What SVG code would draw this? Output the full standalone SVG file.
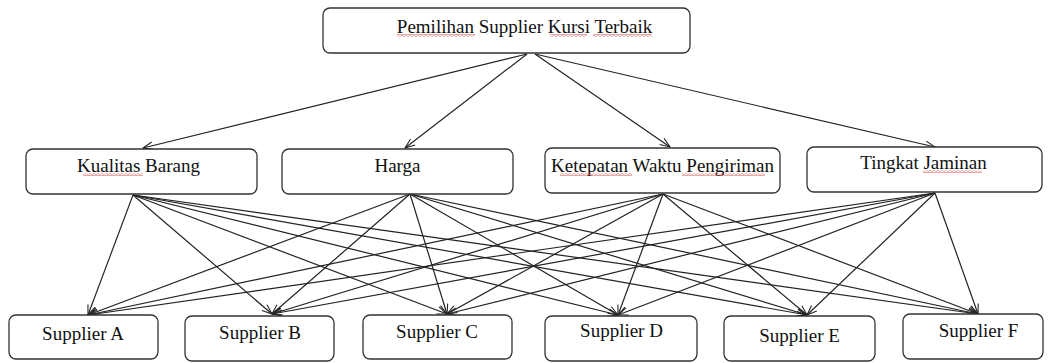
<svg xmlns="http://www.w3.org/2000/svg" width="1049" height="363" viewBox="0 0 1049 363">
  <style>
    .box { fill: #ffffff; stroke: #333333; stroke-width: 1.3; }
    .lbl { font-family: "Liberation Serif", "Times New Roman", serif; font-size: 19px; fill: #111111; text-anchor: middle; }
    .edge { stroke: #222222; stroke-width: 1.2; fill: none; marker-end: url(#arr); }
    .sq { fill: url(#squig); }
  </style>
  <defs>
    <marker id="arr" viewBox="0 0 12 10" refX="11.5" refY="5" markerWidth="11" markerHeight="9" markerUnits="userSpaceOnUse" orient="auto">
      <path d="M0.5,0.8 L11.5,5 L0.5,9.2" fill="none" stroke="#222222" stroke-width="1.2"/>
    </marker>
    <pattern id="squig" x="0" y="0" width="4" height="3" patternUnits="userSpaceOnUse">
      <path d="M0,0.6 L2,2.4 L4,0.6" fill="none" stroke="#e03030" stroke-width="0.8"/>
    </pattern>
  </defs>

  <g id="connectors">
    <line class="edge" x1="527" y1="54" x2="143" y2="148"/>
    <line class="edge" x1="527" y1="54" x2="405" y2="148"/>
    <line class="edge" x1="535" y1="54" x2="670" y2="147"/>
    <line class="edge" x1="535" y1="54" x2="935" y2="147"/>

    <line class="edge" x1="133" y1="195" x2="88" y2="315"/>
    <line class="edge" x1="133" y1="195" x2="272" y2="314"/>
    <line class="edge" x1="133" y1="195" x2="447" y2="314"/>
    <line class="edge" x1="133" y1="195" x2="618" y2="315"/>
    <line class="edge" x1="133" y1="195" x2="807" y2="315"/>
    <line class="edge" x1="133" y1="195" x2="978" y2="314"/>

    <line class="edge" x1="410" y1="194" x2="88" y2="315"/>
    <line class="edge" x1="410" y1="194" x2="272" y2="314"/>
    <line class="edge" x1="410" y1="194" x2="447" y2="314"/>
    <line class="edge" x1="410" y1="194" x2="618" y2="315"/>
    <line class="edge" x1="410" y1="194" x2="807" y2="315"/>
    <line class="edge" x1="410" y1="194" x2="978" y2="314"/>

    <line class="edge" x1="663" y1="194" x2="88" y2="315"/>
    <line class="edge" x1="663" y1="194" x2="272" y2="314"/>
    <line class="edge" x1="663" y1="194" x2="447" y2="314"/>
    <line class="edge" x1="663" y1="194" x2="618" y2="315"/>
    <line class="edge" x1="663" y1="194" x2="807" y2="315"/>
    <line class="edge" x1="663" y1="194" x2="978" y2="314"/>

    <line class="edge" x1="935" y1="193" x2="88" y2="315"/>
    <line class="edge" x1="935" y1="193" x2="272" y2="314"/>
    <line class="edge" x1="935" y1="193" x2="447" y2="314"/>
    <line class="edge" x1="935" y1="193" x2="618" y2="315"/>
    <line class="edge" x1="935" y1="193" x2="807" y2="315"/>
    <line class="edge" x1="935" y1="193" x2="978" y2="314"/>
  </g>

  <g id="goal">
    <rect class="box" x="323" y="8" width="367" height="45" rx="7"/>
    <text class="lbl" x="524.5" y="33">Pemilihan Supplier Kursi Terbaik</text>
    <rect class="sq" x="397" y="34" width="78" height="3"/>
    <rect class="sq" x="550" y="34" width="37" height="3"/>
    <rect class="sq" x="593" y="34" width="59" height="3"/>
  </g>

  <g id="kualitas">
    <rect class="box" x="26" y="149" width="231" height="45" rx="7"/>
    <text class="lbl" x="138.5" y="172">Kualitas Barang</text>
    <rect class="sq" x="83" y="173" width="60" height="3"/>
  </g>
  <g id="harga">
    <rect class="box" x="282" y="149" width="231" height="45" rx="7"/>
    <text class="lbl" x="397.5" y="172">Harga</text>
  </g>
  <g id="ketepatan">
    <rect class="box" x="545" y="148" width="235" height="45" rx="7"/>
    <text class="lbl" x="662.5" y="172">Ketepatan Waktu Pengiriman</text>
    <rect class="sq" x="560" y="173" width="72" height="3"/>
    <rect class="sq" x="682" y="173" width="83" height="3"/>
  </g>
  <g id="jaminan">
    <rect class="box" x="807" y="147" width="235" height="45" rx="7"/>
    <text class="lbl" x="923.5" y="169">Tingkat Jaminan</text>
    <rect class="sq" x="923" y="170" width="59" height="3"/>
  </g>

  <g id="supplierA">
    <rect class="box" x="9" y="315" width="149" height="44" rx="7"/>
    <text class="lbl" x="83" y="340">Supplier A</text>
  </g>
  <g id="supplierB">
    <rect class="box" x="185" y="316" width="149" height="45" rx="7"/>
    <text class="lbl" x="260" y="339">Supplier B</text>
  </g>
  <g id="supplierC">
    <rect class="box" x="363" y="315" width="149" height="44" rx="7"/>
    <text class="lbl" x="437" y="338">Supplier C</text>
  </g>
  <g id="supplierD">
    <rect class="box" x="545" y="316" width="152" height="45" rx="7"/>
    <text class="lbl" x="621.5" y="337">Supplier D</text>
  </g>
  <g id="supplierE">
    <rect class="box" x="724" y="316" width="151" height="45" rx="7"/>
    <text class="lbl" x="799.5" y="342">Supplier E</text>
  </g>
  <g id="supplierF">
    <rect class="box" x="903" y="314" width="140" height="45" rx="7"/>
    <text class="lbl" x="978.5" y="337">Supplier F</text>
  </g>
</svg>
